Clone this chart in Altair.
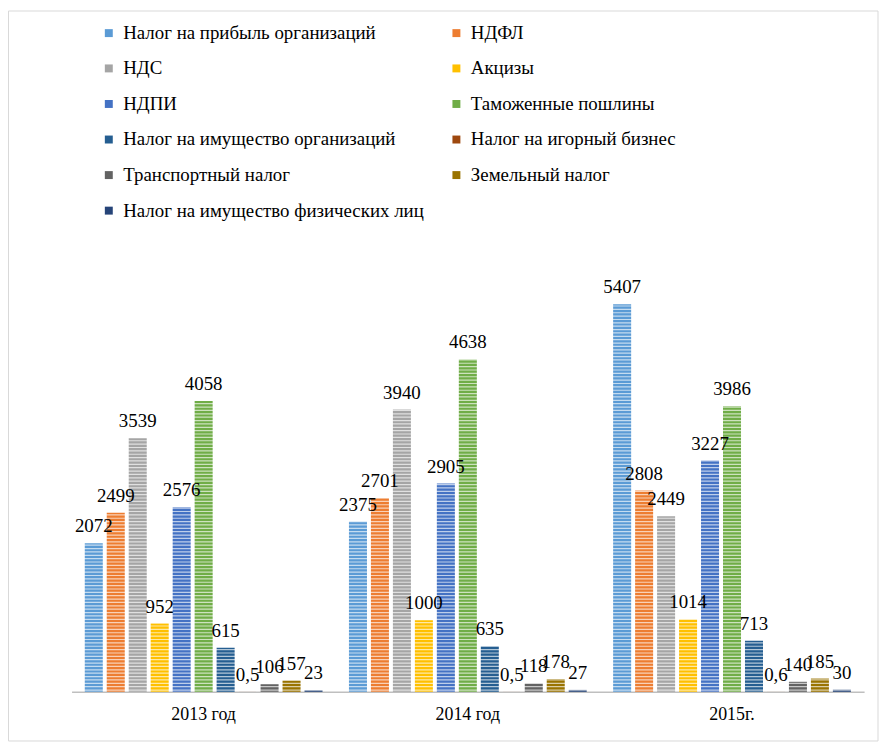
import altair as alt
import pandas as pd

years = ["2013 год", "2014 год", "2015г."]
series = [
    "Налог на прибыль организаций", "НДФЛ", "НДС", "Акцизы", "НДПИ",
    "Таможенные пошлины", "Налог на имущество организаций",
    "Налог на игорный бизнес", "Транспортный налог", "Земельный налог",
    "Налог на имущество физических лиц",
]
v2013 = [2072, 2499, 3539, 952, 2576, 4058, 615, 0.5, 106, 157, 23]
v2014 = [2375, 2701, 3940, 1000, 2905, 4638, 635, 0.5, 118, 178, 27]
v2015 = [5407, 2808, 2449, 1014, 3227, 3986, 713, 0.6, 140, 185, 30]
colors = ["#5B9BD5", "#ED7D31", "#A5A5A5", "#FFC000", "#4472C4", "#70AD47",
          "#255E91", "#9E480E", "#636363", "#997300", "#264478"]
y_ticks = [0, 1000, 2000, 3000, 4000, 5000, 6000]

rows = []
for yr, vals in zip(years, [v2013, v2014, v2015]):
    for s, v in zip(series, vals):
        rows.append({"year": yr, "series": s, "value": v,
                     "label": f"{v:g}".replace(".", ",")})
df = pd.DataFrame(rows)

FONT = "Liberation Serif"
W, H = 798, 433

x_enc = alt.X("year:N", sort=years,
              scale=alt.Scale(paddingInner=0.1, paddingOuter=0.05),
              axis=alt.Axis(title=None, labelAngle=0, ticks=False,
                            domainColor="#BFBFBF", domainWidth=1.5,
                            labelFont=FONT, labelFontSize=18, labelColor="black",
                            labelPadding=14))
xo_enc = alt.XOffset("series:N", sort=series, scale=alt.Scale(paddingInner=0.18))
y_enc = alt.Y("value:Q", scale=alt.Scale(domain=[0, 6000], nice=False),
              axis=alt.Axis(title=None, values=y_ticks, grid=False, domain=False,
                            ticks=False, labelFont=FONT, labelFontSize=19,
                            labelColor="black", labelPadding=17))

bars = alt.Chart(df).mark_bar().encode(
    x=x_enc, xOffset=xo_enc, y=y_enc,
    color=alt.Color("series:N", sort=series,
                    scale=alt.Scale(domain=series, range=colors),
                    legend=alt.Legend(title=None, orient="none", legendX=28,
                                      legendY=-240, columns=2, direction="horizontal",
                                      symbolType="square", symbolSize=64,
                                      symbolStrokeWidth=0, labelOffset=5,
                                      labelFont=FONT, labelFontSize=19,
                                      labelColor="black", rowPadding=15.8,
                                      columnPadding=23, padding=0, labelLimit=400)),
)

stripes = alt.Chart(alt.sequence(25, 6000, 47, as_="value")).mark_rule(
    color="white", strokeWidth=1.2, opacity=0.65
).encode(y=alt.Y("value:Q", scale=alt.Scale(domain=[0, 6000], nice=False), axis=None))

labels = alt.Chart(df).mark_text(
    font=FONT, fontSize=19, color="black", baseline="alphabetic", dy=-11
).encode(x=x_enc, xOffset=xo_enc, y=y_enc, text="label:N")

frame = alt.Chart(pd.DataFrame({"a": [0]})).mark_rect(
    fill="transparent", stroke="#D9D9D9", strokeWidth=1
).encode(x=alt.value(-63.5), x2=alt.value(812), y=alt.value(-252.5), y2=alt.value(482.5))

chart = alt.layer(bars, stripes, labels, frame).properties(
    width=W, height=H,
    autosize=alt.AutoSizeParams(type="none"),
    padding={"left": 64, "top": 253, "right": 15, "bottom": 50},
).configure(font=FONT).configure_view(stroke=None).configure_legend(
    labelFont=FONT, labelFontSize=19)

chart.save("out.html", embed_options={"renderer": "svg", "actions": False})
